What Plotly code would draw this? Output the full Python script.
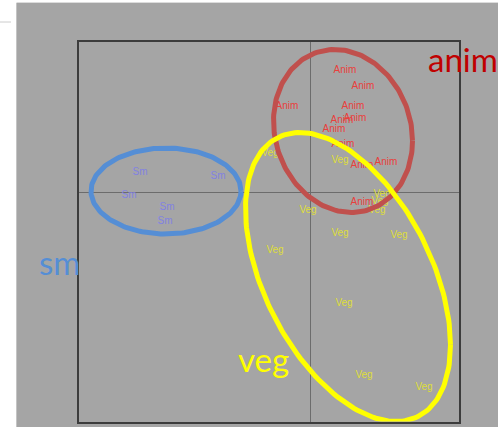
import numpy as np
import plotly.graph_objects as go

# Score coordinates of each labelled sample
anim_x = [0.70, 1.06, -0.46, 0.86, 0.90, 0.64, 0.48, 0.66, 1.52, 1.04, 1.04]
anim_y = [2.44, 2.12, 1.72, 1.72, 1.48, 1.44, 1.26, 0.96, 0.60, 0.54, -0.20]

veg_x = [-0.80, 0.60, -0.04, 1.44, 1.40, 1.34, 0.60, 1.78, -0.70, 0.68, 1.08, 2.28]
veg_y = [0.78, 0.64, -0.36, -0.04, -0.18, -0.36, -0.82, -0.86, -1.16, -2.22, -3.66, -3.90]

sm_x = [-3.40, -1.84, -3.62, -2.86, -2.90]
sm_y = [0.40, 0.32, -0.06, -0.30, -0.58]

# Group ellipses: centre x, centre y, half width, half height, correlation
groups = ["anim", "sm", "veg"]
ell_cx = [0.66, -2.88, 0.76]
ell_cy = [1.22, 0.02, -1.70]
ell_hx = [1.39, 1.50, 2.05]
ell_hy = [1.63, 0.86, 2.89]
ell_rho = [-0.12, 0.0, -0.47]

ELL_COLORS = {"anim": "#c0504d", "sm": "#558ed5", "veg": "#ffff00"}
PT_COLORS = {"anim": "#e8403c", "sm": "#8282e2", "veg": "#dede3a"}


def ellipse(cx, cy, hx, hy, rho, n=200):
    cov = np.array([[hx * hx, rho * hx * hy], [rho * hx * hy, hy * hy]])
    L = np.linalg.cholesky(cov)
    t = np.linspace(0, 2 * np.pi, n)
    pts = L @ np.vstack([np.cos(t), np.sin(t)])
    return cx + pts[0], cy + pts[1]


fig = go.Figure()

# sample labels
for name, xs, ys, lab in [("anim", anim_x, anim_y, "Anim"),
                          ("veg", veg_x, veg_y, "Veg"),
                          ("sm", sm_x, sm_y, "Sm")]:
    fig.add_trace(go.Scatter(
        x=xs, y=ys, mode="text", text=[lab] * len(xs),
        textfont=dict(family="Liberation Sans, Arial", size=10, color=PT_COLORS[name]),
        hoverinfo="skip", showlegend=False))

# ellipses drawn on top of the labels
for i, g in enumerate(groups):
    ex, ey = ellipse(ell_cx[i], ell_cy[i], ell_hx[i], ell_hy[i], ell_rho[i])
    fig.add_trace(go.Scatter(
        x=ex, y=ey, mode="lines",
        line=dict(color=ELL_COLORS[g], width=5),
        hoverinfo="skip", showlegend=False))

ax = dict(showgrid=False, showticklabels=False, ticks="",
          showline=True, mirror=True, linecolor="#3c3c3c", linewidth=2,
          zeroline=True, zerolinecolor="#6c6c6c", zerolinewidth=1,
          layer="below traces")

big_font = "Lato, Open Sans, sans-serif"

fig.update_layout(
    width=498, height=427,
    margin=dict(l=0, r=0, t=0, b=0),
    paper_bgcolor="white",
    plot_bgcolor="rgba(0,0,0,0)",
    xaxis=dict(ax, domain=[79 / 498, 458.5 / 498], range=[-4.62, 2.97]),
    yaxis=dict(ax, domain=[1 - 421.5 / 427, 1 - 42 / 427], range=[-4.59, 3.0]),
    shapes=[
        dict(type="rect", xref="paper", yref="paper",
             x0=17 / 498, x1=1, y0=0, y1=1 - 3 / 427,
             fillcolor="#a5a5a5", line=dict(width=0), layer="below"),
        # faint light edge on the left and top of the grey panel
        dict(type="line", xref="paper", yref="paper",
             x0=16.5 / 498, x1=16.5 / 498, y0=0, y1=1 - 3 / 427,
             line=dict(color="#c4c4c4", width=1), layer="below"),
        dict(type="line", xref="paper", yref="paper",
             x0=16.5 / 498, x1=1, y0=1 - 2.5 / 427, y1=1 - 2.5 / 427,
             line=dict(color="#dcdcdc", width=1), layer="below"),
        dict(type="line", xref="paper", yref="paper",
             x0=0, x1=11 / 498, y0=1 - 22 / 427, y1=1 - 22 / 427,
             line=dict(color="#cccccc", width=1)),
    ],
    annotations=[
        dict(text="anim", xref="paper", yref="paper", x=426 / 498, y=1 - 59 / 427,
             xanchor="left", yanchor="middle", showarrow=False,
             font=dict(family=big_font, size=33, color="#c00000")),
        dict(text="sm", xref="paper", yref="paper", x=37 / 498, y=1 - 262 / 427,
             xanchor="left", yanchor="middle", showarrow=False,
             font=dict(family=big_font, size=33, color="#558ed5")),
        dict(text="veg", xref="paper", yref="paper", x=236 / 498, y=1 - 359 / 427,
             xanchor="left", yanchor="middle", showarrow=False,
             font=dict(family=big_font, size=33, color="#ffff00")),
    ],
)

# page margin off so the figure sits at the window's corner
fig.write_html("out.html", config={"displayModeBar": False},
               post_script="document.body.style.margin='0px';")
